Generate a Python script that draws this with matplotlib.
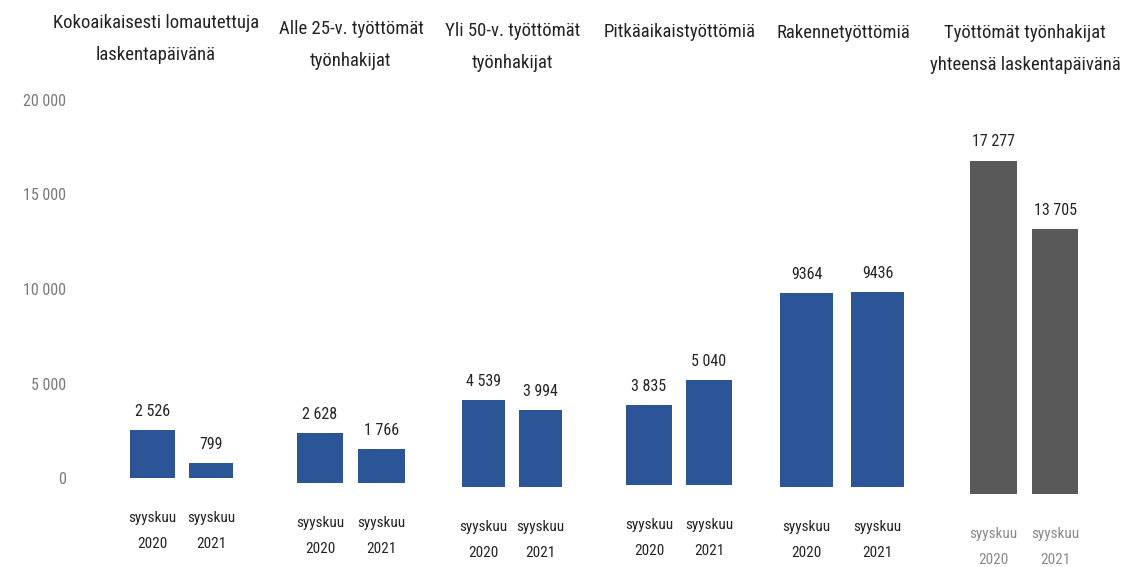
import matplotlib.pyplot as plt

# 数据
titles = ["Kokoaikaisesti lomautettuja\nlaskentapäivänä", "Alle 25-v. työttömät\ntyönhakijat",
          "Yli 50-v. työttömät\ntyönhakijat", "Pitkäaikaistyöttömiä", "Rakennetyöttömiä",
          "Työttömät työnhakijat\nyhteensä laskentapäivänä"]
periods = ["syyskuu\n2020", "syyskuu\n2021"]
values_2020 = [2526, 2628, 4539, 3835, 9364, 17277]
values_2021 = [799, 1766, 3994, 5040, 9436, 13705]
value_labels_2020 = ["2 526", "2 628", "4 539", "3 835", "9364", "17 277"]
value_labels_2021 = ["799", "1 766", "3 994", "5 040", "9436", "13 705"]
y_ticks = [0, 5000, 10000, 15000, 20000]
y_tick_labels = ["0", "5 000", "10 000", "15 000", "20 000"]

# 布局 (像素)
W, H = 1142, 567
centers = [181.75, 350.75, 512, 679, 842, 1024.25]   # 每组中心
spacing = [58.5, 61.5, 57, 60, 71, 61.5]            # 两根柱子间距
base_px = [478, 483, 487, 485, 487, 494]            # 基线
scale = [19.0, 19.0, 19.2, 20.8, 20.7, 19.3]        # 每1000的像素
title_x = [156, 351, 513, 680, 843, 1025]
title_y = [38.5, 44.5, 47, 32, 33, 49]
top_px = 100

BLUE = "#2B5597"
GREY = "#595959"
TXT = "#252423"

plt.rcParams['font.family'] = ['Roboto Condensed', 'DejaVu Sans']
plt.rcParams['font.stretch'] = 'condensed'

fig = plt.figure(figsize=(W / 100, H / 100), dpi=100)

# y轴标签
ay = fig.add_axes([66 / W, 1 - 478 / H, 2 / W, (478 - 100) / H])
ay.set_ylim(0, 20000)
ay.set_xlim(0, 1)
ay.set_yticks(y_ticks)
ay.set_yticklabels(y_tick_labels, fontsize=11.5, color="#7a7a7a")
ay.tick_params(axis='y', length=0, pad=0)
ay.set_xticks([])
for s in ay.spines.values():
    s.set_visible(False)
ay.patch.set_alpha(0)

for i in range(6):
    left = centers[i] - spacing[i]
    width = 2 * spacing[i]
    ymax = (base_px[i] - top_px) / scale[i] * 1000
    ax = fig.add_axes([left / W, 1 - base_px[i] / H, width / W, (base_px[i] - top_px) / H])
    ax.set_xlim(-0.5, 1.5)
    ax.set_ylim(0, ymax)
    color = GREY if i == 5 else BLUE
    vals = [values_2020[i], values_2021[i]]
    labs = [value_labels_2020[i], value_labels_2021[i]]
    bars = ax.bar([0, 1], vals, width=0.76, color=color)
    for b, lab in zip(bars, labs):
        ax.annotate(lab, (b.get_x() + b.get_width() / 2, b.get_height()), textcoords="offset points",
                    xytext=(0, 8), ha='center', va='bottom', fontsize=11.5, color=TXT)
    ax.set_xticks([0, 1])
    ax.set_xticklabels(periods, fontsize=11, color="#8a8a8a" if i == 5 else TXT, linespacing=2.1)
    ax.tick_params(axis='x', length=0, pad=24)
    ax.set_yticks([])
    for s in ax.spines.values():
        s.set_visible(False)
    ax.patch.set_alpha(0)
    fig.text(title_x[i] / W, 1 - title_y[i] / H, titles[i], ha='center', va='center',
             fontsize=13.5, color=TXT, linespacing=2.0)

plt.savefig("out.png", dpi=100)
